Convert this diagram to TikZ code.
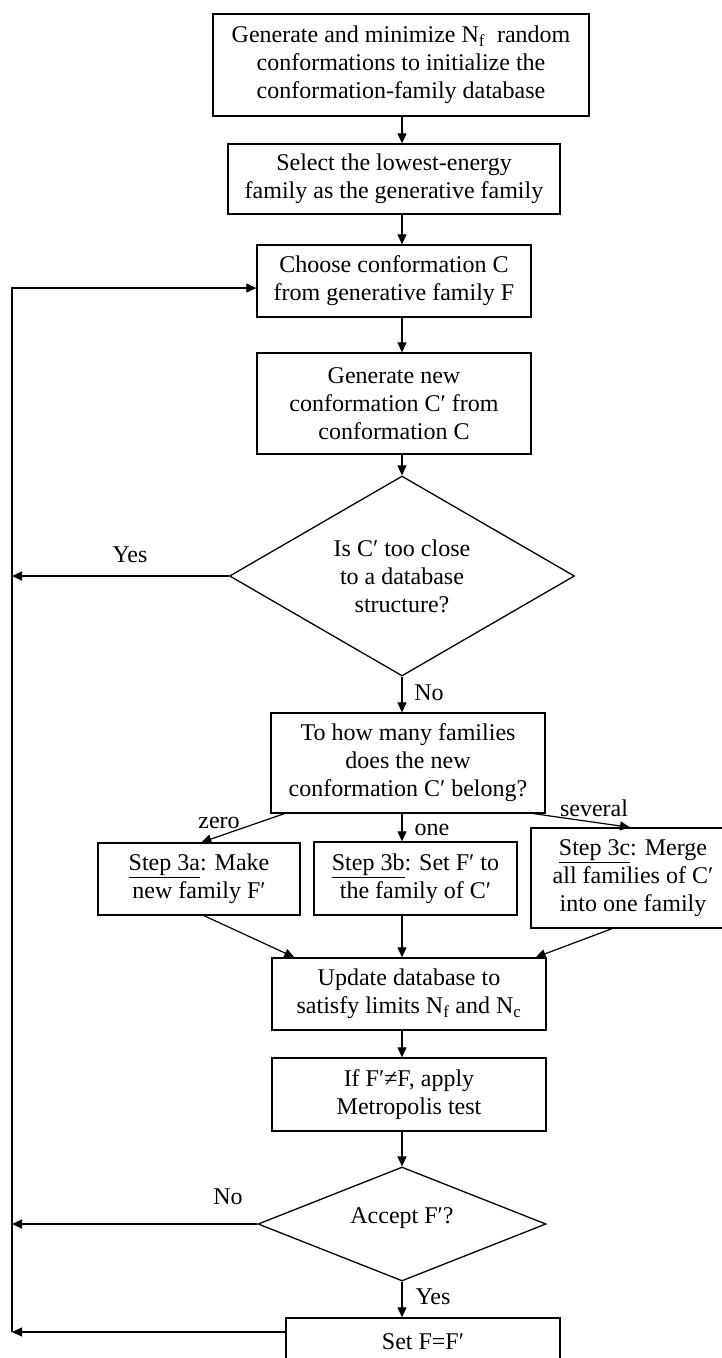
\documentclass[tikz,border=0pt]{standalone}
\usepackage{fontspec}
\setmainfont{Liberation Serif}
\usetikzlibrary{shapes.geometric,arrows.meta}
\begin{document}
\begin{tikzpicture}[x=1pt,y=-1pt,
  every node/.style={font=\fontsize{24}{28}\selectfont},
  box/.style={draw,line width=1.3pt,rectangle,inner sep=0pt,align=center},
  dia/.style={draw,line width=1.3pt,diamond,inner sep=0pt,align=center},
  arr/.style={line width=1.2pt,-{Triangle[length=10pt,width=9pt]}},
  lbl/.style={inner sep=0pt}]
\useasboundingbox (0,0) rectangle (722,1358);
\clip (0,0) rectangle (722,1358);
\coordinate (col) at (402,0);
\coordinate (loopTop) at (12,288);
\coordinate (loopBot) at (12,1332);

\node[box,minimum width=376pt,minimum height=102pt] (b1) at (401,65)
  {Generate and minimize N\textsubscript{f}\ \ random\\conformations to initialize the\\conformation-family database};
\node[box,minimum width=332pt,minimum height=70pt] (b2) at (394,179)
  {Select the lowest-energy\\family as the generative family};
\node[box,minimum width=274pt,minimum height=72pt] (b3) at (394,281)
  {Choose conformation C\\from generative family F};
\node[box,minimum width=274pt,minimum height=101pt] (b4) at (394,403.5)
  {Generate new\\conformation C′ from\\conformation C};
\node[dia,minimum width=345pt,minimum height=200pt,aspect=1.725] (d1) at (402,576)
  {Is C′ too close\\to a database\\structure?};
\node[box,minimum width=274pt,minimum height=100pt] (b5) at (408,763)
  {To how many families\\does the new\\conformation C′ belong?};
\node[box,minimum width=202pt,minimum height=72pt] (b6a) at (199,879)
  {\underline{Step 3a}: Make\\new family F′};
\node[box,minimum width=203pt,minimum height=73pt] (b6b) at (415.5,878.5)
  {\underline{Step 3b}: Set F′ to\\the family of C′};
\node[box,minimum width=204pt,minimum height=100pt] (b6c) at (633,878)
  {\underline{Step 3c}: Merge\\all families of C′\\into one family};
\node[box,minimum width=274pt,minimum height=72pt] (b7) at (409,994)
  {Update database to\\satisfy limits N\textsubscript{f} and N\textsubscript{c}};
\node[box,minimum width=274pt,minimum height=73pt] (b8) at (409,1094.5)
  {If F′≠F, apply\\Metropolis test};
\node[dia,minimum width=288pt,minimum height=114pt,aspect=2.5,text height=17pt,text depth=19pt] (d2) at (402,1224)
  {Accept F′?};
\node[box,minimum width=274pt,minimum height=48pt] (b9) at (423,1342)
  {Set F=F′};

% labels
\node[lbl] (lyes1) at (130,555) {Yes};
\node[lbl] (lno1) at (429,693) {No};
\node[lbl] (lzero) at (219,823) {zero};
\node[lbl] (lone) at (432,830) {one};
\node[lbl] (lsev) at (594,808) {several};
\node[lbl] (lno2) at (228,1197) {No};
\node[lbl] (lyes2) at (433,1297) {Yes};

% connectors
\draw[arr] (b1.south -| col) -- (b2.north -| col);
\draw[arr] (b2.south -| col) -- (b3.north -| col);
\draw[arr] (b3.south -| col) -- (b4.north -| col);
\draw[arr] (b4.south -| col) -- (d1.north);
\draw[arr] (d1.south) -- (b5.north -| col);
\draw[arr] ([xshift=14pt]b5.south west) -- ([xshift=104pt]b6a.north west);
\draw[arr] (b5.south -| col) -- (b6b.north -| col);
\draw[arr] ([xshift=-12pt]b5.south east) -- ([xshift=-3pt]b6c.north);
\draw[arr] ([xshift=5pt]b6a.south) -- ([xshift=23pt]b7.north west);
\draw[arr] (b6b.south -| col) -- (b7.north -| col);
\draw[arr] ([xshift=-21pt]b6c.south) -- ([xshift=-11pt]b7.north east);
\draw[arr] (b7.south -| col) -- (b8.north -| col);
\draw[arr] (b8.south -| col) -- (d2.north);
\draw[arr] (d2.south) -- (b9.north -| d2.south);
\draw[arr] (d1.west) -- (d1.west -| loopTop);
\draw[arr] (d2.west) -- (d2.west -| loopTop);
\draw[arr] (b9.west |- loopBot) -- (loopBot);
\draw[arr] (loopBot) -- (loopTop) -- (b3.west |- loopTop);
\end{tikzpicture}
\end{document}
